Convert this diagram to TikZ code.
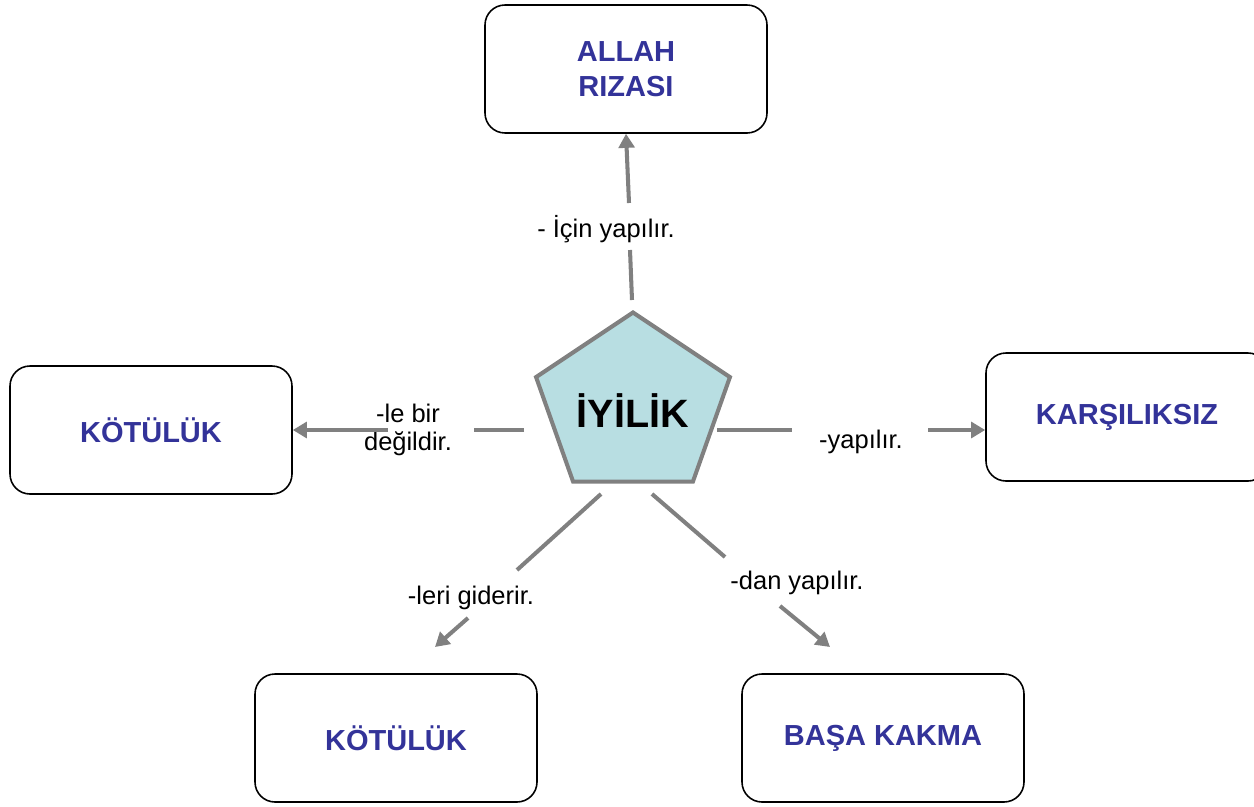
\documentclass[tikz,border=0pt]{standalone}
\usepackage{fontspec}
\setmainfont{Liberation Sans}
\usetikzlibrary{shapes.geometric,arrows.meta}

\definecolor{boxblue}{RGB}{51,51,153}
\definecolor{linegray}{RGB}{128,128,128}
\definecolor{pentfill}{RGB}{184,222,226}

\tikzset{
  box/.style={draw, rounded corners=0.4cm, minimum width=5.64cm, minimum height=2.56cm,
    line width=0.9pt, align=center, text=boxblue, font=\fontsize{16.5}{20}\selectfont\bfseries},
  conn/.style={linegray, line width=2.3pt, -{Triangle[length=8pt,width=9pt]}},
  seg/.style={linegray, line width=2.3pt},
  lab/.style={align=center, inner sep=0pt, font=\fontsize{14.5}{16}\selectfont},
}

\begin{document}
\begin{tikzpicture}[x=0.2mm, y=-0.2mm]
    \useasboundingbox (0,0) rectangle (1254,806);

    % center
    \node[regular polygon, regular polygon sides=5, minimum size=3.74cm, inner sep=0pt, draw=linegray,
      line width=2.3pt, fill=pentfill, xscale=1.09, transform shape] (iyilik) at (633,406) {};
    \node[font=\fontsize{22.5}{26}\selectfont\bfseries] (iyiliktext) at (633,411) {İYİLİK};

    % boxes
    \node[box] (allah) at (626,69) {ALLAH\\RIZASI};
    \node[box] (kotuluk1) at (151,430) {KÖTÜLÜK};
    \node[box] (karsiliksiz) at (1127,417) {KARŞILIKSIZ};
    \node[box] (kotuluk2) at (396,738) {KÖTÜLÜK};
    \node[box] (basa) at (883,738) {BAŞA KAKMA};

    % labels
    \node[lab] (icin) at (606,229) {- İçin yapılır.};
    \node[lab] (lebir) at (408,430) {-le bir\\değildir.};
    \node[lab] (yapilir) at (861,442) {-yapılır.};
    \node[lab] (leri) at (471,598) {-leri giderir.};
    \node[lab] (dan) at (797,583) {-dan yapılır.};

    % line ends
    \coordinate (t1) at (632,300); \coordinate (t2) at (630,250); \coordinate (t3) at (629,203);
    \coordinate (l1) at (524,430); \coordinate (l2) at (474,430); \coordinate (l3) at (388,430);
    \coordinate (r1) at (717,430); \coordinate (r2) at (792,430); \coordinate (r3) at (928,430);
    \coordinate (a1) at (601,494); \coordinate (a2) at (517,570); \coordinate (a3) at (468,618);
    \coordinate (a4) at (435,647);
    \coordinate (b1) at (652,494); \coordinate (b2) at (725,557); \coordinate (b3) at (780,606);
    \coordinate (b4) at (830,647);

    % connectors
    \draw[seg] (t1) -- (t2);
    \draw[conn] (t3) -- (allah.south);
    \draw[seg] (l1) -- (l2);
    \draw[conn] (l3) -- (l3 -| kotuluk1.east);
    \draw[seg] (r1) -- (r2);
    \draw[conn] (r3) -- (r3 -| karsiliksiz.west);
    \draw[seg] (a1) -- (a2);
    \draw[conn] (a3) -- (a4);
    \draw[seg] (b1) -- (b2);
    \draw[conn] (b3) -- (b4);
\end{tikzpicture}
\end{document}
